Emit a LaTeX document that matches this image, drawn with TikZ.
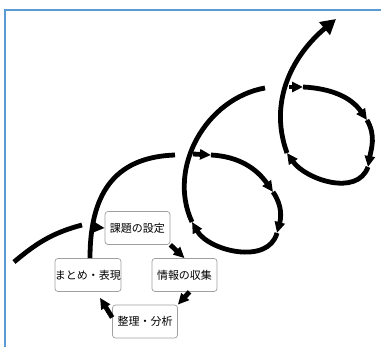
\documentclass[tikz,border=0pt]{standalone}
\usepackage{fontspec}
\newfontfamily\jpfont{Noto Sans CJK JP}
\usetikzlibrary{arrows.meta,calc}
\definecolor{frameblue}{RGB}{91,155,213}
\begin{document}
\begin{tikzpicture}[x=1pt,y=1pt,
  flow/.style={line width=4.8pt, -{Triangle[length=11pt,width=10pt]}},
  bigflow/.style={line width=4.8pt, -{Triangle[length=15pt,width=16pt]}},
  plain/.style={line width=4.8pt},
  stage/.style={draw=gray!75, line width=0.7pt, rounded corners=3pt, fill=white,
    minimum width=65pt, minimum height=33pt, inner sep=0pt,
    font=\jpfont\fontsize{11}{13}\selectfont},
  frame/.style={draw=frameblue, line width=2pt}]
\useasboundingbox (0,0) rectangle (381,347);
% frame
\coordinate (fb) at (5,0);
\coordinate (fc) at (5,337);
\coordinate (fr) at (381,337);
\draw[frame] (fb) -- (fc) -- (fr);
% stages
\node[stage] (kadai)  at (137.5,119) {課題の設定};
\node[stage] (joho)   at (184.5,72)  {情報の収集};
\node[stage] (matome) at (88,72)     {まとめ・表現};
\node[stage] (seiri)  at (145,25.5)  {整理・分析};
% incoming
\coordinate (in0) at (14,85);
\coordinate (in1) at (82,122);
\coordinate (in2) at (92,120);
\draw[plain] (in0) to[out=40,in=195] (in1);
\draw[flow] (in2) -- (kadai.west);
% cycle between stages
\draw[flow] (kadai.south east) -- (joho.north);
\draw[flow] ($(joho.south)+(5,0)$) -- (seiri.north east);
\draw[flow] ($(seiri.west)+(0,4)$) -- ($(matome.south)+(12,-6)$);
% big arc from matome
\coordinate (b1) at (175,192);
\draw[plain] ($(matome.north)+(2,0)$) .. controls (90,160) and (120,190) .. (b1);
% loop 2
\coordinate (s2) at (193,193);
\coordinate (t1) at (211,192);
\coordinate (t2) at (273,155);
\coordinate (t3) at (277,114);
\coordinate (t4) at (192,125);
\coordinate (e2) at (265,259);
\draw[flow] (s2) -- (t1);
\draw[flow] (t1) to[out=-3,in=125] (t2);
\draw[flow] (t2) to[out=-55,in=75] (t3);
\draw[flow] (t3) to[out=-105,in=-60] (t4);
\draw[plain] (t4) to[out=115,in=190] (e2);
% loop 3
\coordinate (s3) at (289,260);
\coordinate (u1) at (303,260);
\coordinate (u2) at (367,227);
\coordinate (u3) at (368,180);
\coordinate (u4) at (287,194);
\coordinate (e3) at (336,328);
\draw[flow] (s3) -- (u1);
\draw[flow] (u1) to[out=-3,in=125] (u2);
\draw[flow] (u2) to[out=-60,in=80] (u3);
\draw[flow] (u3) to[out=-110,in=-55] (u4);
\draw[bigflow] (u4) to[out=110,in=220] (e3);
\end{tikzpicture}
\end{document}
